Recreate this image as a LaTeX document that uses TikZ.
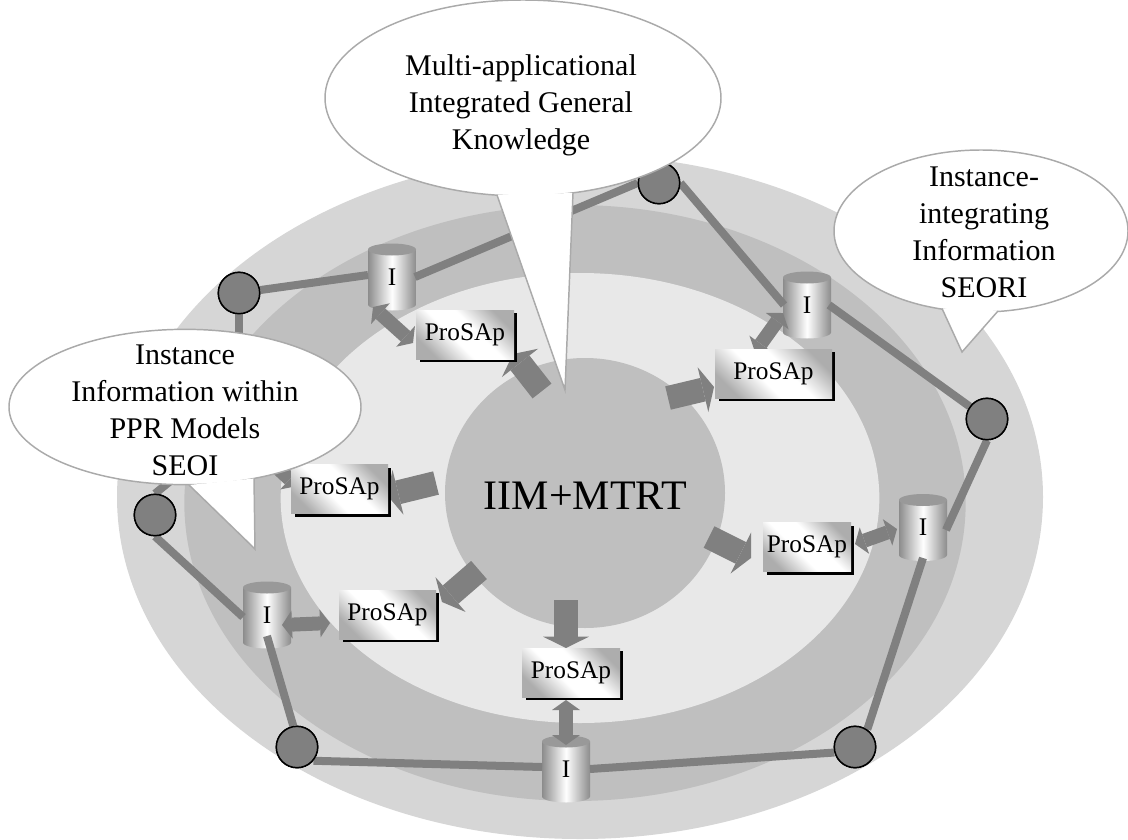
\documentclass[tikz,border=0pt]{standalone}
\usepackage{fontspec}
\setmainfont{Liberation Serif}
\usetikzlibrary{shapes.geometric,arrows.meta}
\definecolor{ringA}{HTML}{D6D6D6}
\definecolor{ringB}{HTML}{BFBFBF}
\definecolor{ringC}{HTML}{E8E8E8}
\definecolor{linkc}{HTML}{808080}
\definecolor{bubbleedge}{HTML}{AAAAAA}
\definecolor{cyltop}{HTML}{999999}
\definecolor{cylside}{HTML}{8C8C8C}
\pgfdeclareverticalshading{boxshade}{100bp}{
  color(0bp)=(black!32); color(25bp)=(black!32); color(43bp)=(white);
  color(57bp)=(white); color(75bp)=(black!32); color(100bp)=(black!32)}
\tikzset{
  ring/.style={ellipse,draw=none,inner sep=0pt},
  linkline/.style={draw=linkc,line width=6pt},
  station/.style={circle,draw=black,line width=1.1pt,fill=linkc,minimum size=31pt,inner sep=0pt},
  bigarrow/.style={draw=linkc,line width=18pt,-{Triangle[width=34.5pt,length=8.5pt,line width=0pt,fill=linkc]}},
  dblarrow/.style={draw=linkc,line width=10.5pt,{Triangle[width=21pt,length=7.5pt,line width=0pt,fill=linkc]}-{Triangle[width=21pt,length=7.5pt,line width=0pt,fill=linkc]}},
  probox/.style={rectangle,inner sep=0pt,minimum height=36.75pt,font=\fontsize{19}{19}\selectfont,
    shading=boxshade,shading angle=-45},
  cylbox/.style={rectangle,inner sep=0pt,minimum width=36pt,minimum height=50pt,font=\fontsize{19}{19}\selectfont},
  bubble/.style={draw=bubbleedge,line width=1.1pt,fill=white},
  bubbletext/.style={align=center,inner sep=0pt,font=\fontsize{22.5}{27.75}\selectfont}
}
\newcommand{\cylinderat}[3]{%
  \shade[left color=cylside,right color=cylside,middle color=white]
    (#2-24,#3-27.5) -- (#2-24,#3+27.5) arc[start angle=180,end angle=0,x radius=24,y radius=6] -- (#2+24,#3-27.5) -- cycle;
  \fill[cyltop] (#2,#3-27.5) ellipse[x radius=24,y radius=6];
  \node[cylbox] (#1) at (#2,#3) {I};
}
\newcommand{\proboxat}[4]{%
  \fill[black] (#2-#3/2+4,#4-24.5+3) rectangle (#2+#3/2+3,#4+24.5+3);
  \node[probox,minimum width=#3*0.75pt] (#1) at (#2,#4) {ProSAp};
}
\begin{document}
\begin{tikzpicture}[x=0.75pt,y=-0.75pt]
\useasboundingbox (0,0) rectangle (1128,839);
% rings
\node[ring,fill=ringA,minimum width=694.5pt,minimum height=513pt] (outer) at (580,497) {};
\node[ring,fill=ringB,minimum width=586pt,minimum height=447pt] (middle) at (575,503) {};
\node[ring,fill=ringC,minimum width=449pt,minimum height=337.5pt] (inner) at (580,498) {};
\node[ring,fill=ringB,minimum width=210pt,minimum height=202.5pt] (core) at (585,493) {};
\node[font=\fontsize{31.5}{31.5}\selectfont,inner sep=0pt,anchor=base] (coretext) at (585.5,509) {IIM+MTRT};
% cylinders
\cylinderat{C1}{392}{277}
\cylinderat{C2}{807}{305}
\cylinderat{C3}{923}{527.5}
\cylinderat{C4}{566}{769}
\cylinderat{C5}{267}{615}
% stations and hidden junction
\coordinate (H) at (239,425);
\node[station] (A) at (239,293) {};
\node[station] (B) at (659,183) {};
\node[station] (D) at (987,419) {};
\node[station] (E) at (297,747) {};
\node[station] (F) at (855,747) {};
\node[station] (G) at (155,515) {};
% links
\coordinate (C1w) at (368,275);
\coordinate (C1e) at (415,277);
\coordinate (C2w) at (784,305);
\coordinate (C2e) at (829,305);
\coordinate (C3e) at (946,530);
\coordinate (C3s) at (923,558);
\coordinate (C4w) at (542,767);
\coordinate (C4e) at (590,769);
\coordinate (C5s) at (267,636);
\coordinate (C5w) at (243,617);
\draw[linkline] (A) -- (C1w);
\draw[linkline] (C1e) -- (B.west);
\draw[linkline] (B.east) -- (C2w);
\draw[linkline] (C2e) -- (D);
\draw[linkline] (D.south) -- (C3e);
\draw[linkline] (C3s) -- (F.55);
\draw[linkline] (F.195) -- (C4e);
\draw[linkline] (C4w) -- (E.-40);
\draw[linkline] (E.100) -- (C5s);
\draw[linkline] (C5w) -- (G.south);
\draw[linkline] (A) -- (H);
\draw[linkline] (G.north) -- (H);
\node[station] at (A) {};
\node[station] at (B) {};
\node[station] at (D) {};
\node[station] at (E) {};
\node[station] at (F) {};
\node[station] at (G) {};
% big arrows
\coordinate (a1s) at (542,391); \coordinate (a1e) at (513,354);
\coordinate (a2s) at (668,398); \coordinate (a2e) at (714,387);
\coordinate (a3s) at (709,537); \coordinate (a3e) at (751,558);
\coordinate (a4s) at (566,600); \coordinate (a4e) at (566,648);
\coordinate (a5s) at (479,570); \coordinate (a5e) at (442,602);
\coordinate (a6s) at (436,483); \coordinate (a6e) at (387,495);
\foreach \n in {1,...,6} {\draw[bigarrow] (a\n s) -- (a\n e);}
% double arrows
\coordinate (d1s) at (373,307); \coordinate (d1e) at (413,343);
\coordinate (d2s) at (755,352); \coordinate (d2e) at (783,313);
\coordinate (d3s) at (855,544); \coordinate (d3e) at (897,529);
\coordinate (d4s) at (282,625); \coordinate (d4e) at (330,623);
\coordinate (d5s) at (566,700); \coordinate (d5e) at (566,745);
\coordinate (d6s) at (256,448); \coordinate (d6e) at (297,486);
\foreach \n in {1,...,6} {\draw[dblarrow] (d\n s) -- (d\n e);}
% boxes
\proboxat{P1}{465}{98}{334.5}
\proboxat{P2}{773.5}{117}{373.5}
\proboxat{P3}{807}{88}{547}
\proboxat{P4}{571}{98}{672.5}
\proboxat{P5}{387.5}{97}{614.5}
\proboxat{P6}{339.5}{97}{489}
% bubbles
\node[ellipse,bubble,minimum width=297pt,minimum height=147pt,inner sep=0pt] (b1) at (523,98) {};
\filldraw[bubble] (497,195) -- (565,390) -- (573,193);
\node[bubbletext] (t1) at (521,105) {Multi-applicational\\Integrated General\\Knowledge};
\node[ellipse,bubble,minimum width=220.5pt,minimum height=121.5pt,inner sep=0pt] (b2) at (981,231) {};
\filldraw[bubble] (942,308.5) -- (962,352) -- (998,311);
\node[bubbletext] (t2) at (984,232) {Instance-\\integrating\\Information\\SEORI};
\node[ellipse,bubble,minimum width=264pt,minimum height=116.5pt,inner sep=0pt] (b3) at (185,407) {};
\filldraw[bubble] (189,485) -- (255,549) -- (254,478.5);
\node[bubbletext] (t3) at (185,410) {Instance\\Information within\\PPR Models\\SEOI};
\end{tikzpicture}
\end{document}
